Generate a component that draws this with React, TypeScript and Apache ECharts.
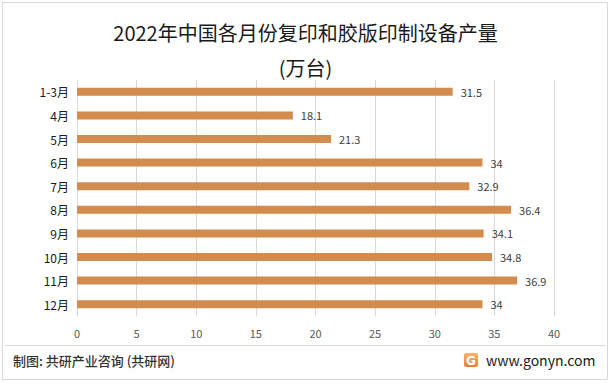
import React, { useEffect, useRef } from "react";
import * as echarts from "echarts";

const categories = ["1-3月", "4月", "5月", "6月", "7月", "8月", "9月", "10月", "11月", "12月"];
const values = [31.5, 18.1, 21.3, 34, 32.9, 36.4, 34.1, 34.8, 36.9, 34];
const titleText = "2022年中国各月份复印和胶版印制设备产量";
const unitText = "(万台)";
const sourceText = "制图: 共研产业咨询 (共研网)";
const siteText = "www.gonyn.com";

export default function App() {
  const ref = useRef<HTMLDivElement>(null);
  useEffect(() => {
    const chart = echarts.init(ref.current!, null, { renderer: "svg" });
    const font = '"Microsoft YaHei", "Noto Sans CJK SC", sans-serif';
    chart.setOption({
      animation: false,
      backgroundColor: "#ffffff",
      textStyle: { fontFamily: font },
      title: [
        {
          text: titleText,
          left: "center",
          top: 22,
          padding: 0,
          textStyle: { fontSize: 20, fontWeight: "normal", color: "#1a1a1a", fontFamily: font },
        },
        {
          text: unitText,
          left: "center",
          top: 57,
          padding: 0,
          textStyle: { fontSize: 20, fontWeight: "normal", color: "#1a1a1a", fontFamily: font },
        },
      ],
      grid: { left: 77, right: 57, top: 80, bottom: 67 },
      xAxis: {
        type: "value",
        min: 0,
        max: 40,
        interval: 5,
        axisLine: { show: false },
        axisTick: { show: false },
        axisLabel: { color: "#595959", fontSize: 11, margin: 11, fontFamily: font },
        splitLine: { lineStyle: { color: "#d9d9d9", width: 1 } },
      },
      yAxis: {
        type: "category",
        data: categories,
        inverse: true,
        axisLine: { show: false },
        axisTick: { show: false },
        axisLabel: { color: "#1a1a1a", fontSize: 12, margin: 8, fontFamily: font },
      },
      series: [
        {
          type: "bar",
          data: values,
          barWidth: 8,
          itemStyle: { color: "#D48B4E" },
          label: {
            show: true,
            position: "right",
            distance: 8,
            color: "#404040",
            fontSize: 11,
            fontFamily: font,
          },
        },
      ],
      graphic: [
        {
          type: "rect",
          shape: { x: 2.5, y: 2.5, width: 605, height: 377 },
          style: { fill: "none", stroke: "#d9d9d9", lineWidth: 1 },
          silent: true,
        },
        {
          type: "line",
          shape: { x1: 5, y1: 345.5, x2: 605, y2: 345.5 },
          style: { stroke: "#d9d9d9", lineWidth: 1 },
          silent: true,
        },
        {
          type: "text",
          x: 13,
          y: 360,
          style: {
            text: sourceText,
            fill: "#333333",
            fontSize: 13,
            fontWeight: 500,
            fontFamily: font,
            verticalAlign: "middle",
          },
        },
        {
          type: "rect",
          shape: { x: 464, y: 353, width: 14, height: 14, r: 2 },
          style: {
            fill: new echarts.graphic.LinearGradient(0, 0, 0, 1, [
              { offset: 0, color: "#f6b26b" },
              { offset: 1, color: "#ee7d3b" },
            ]),
          },
        },
        {
          type: "text",
          x: 471,
          y: 360.5,
          style: {
            text: "G",
            fill: "#ffffff",
            fontSize: 12,
            fontWeight: "bold",
            fontFamily: "DejaVu Sans, sans-serif",
            align: "center",
            verticalAlign: "middle",
          },
        },
        {
          type: "text",
          x: 486,
          y: 360,
          style: {
            text: siteText,
            fill: "#1a1a1a",
            fontSize: 14,
            fontFamily: font,
            verticalAlign: "middle",
          },
        },
      ],
    });
    return () => chart.dispose();
  }, []);
  return (
    <div
      ref={ref}
      style={{ position: "fixed", left: 0, top: 0, width: 611, height: 383 }}
    />
  );
}
